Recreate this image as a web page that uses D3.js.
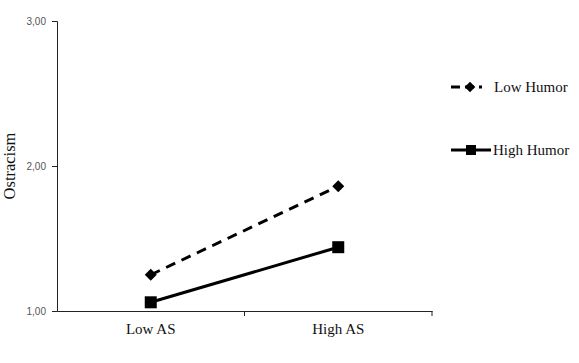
<!DOCTYPE html>
<html><head><meta charset="utf-8">
<script src="https://cdn.jsdelivr.net/npm/d3@7"></script>
<style>body{margin:0;background:#fff}</style>
</head><body>
<svg id="c" width="579" height="363"></svg>
<script>
const categories = ["Low AS", "High AS"];
const lowHumor = [1.25, 1.86];
const highHumor = [1.06, 1.44];
const yTicks = [1, 2, 3];
const seriesNames = ["Low Humor", "High Humor"];

const svg = d3.select("#c");
const m = {l: 57, r: 432, t: 21, b: 311};
const x = d3.scaleBand().domain(categories).range([m.l, m.r]);
const y = d3.scaleLinear().domain([1, 3]).range([m.b, m.t]);
const fmt = d => d3.format(".2f")(d).replace(".", ",");
const serif = "Liberation Serif, Times New Roman, serif";

// y axis
const ya = svg.append("g").attr("transform", `translate(${m.l},0)`)
  .call(d3.axisLeft(y).tickValues(yTicks).tickFormat(fmt).tickSize(5).tickPadding(6));
ya.select(".domain").attr("stroke", "#222");
ya.selectAll(".tick line").attr("stroke", "#222");
ya.selectAll("text").attr("font-family", "Liberation Sans, Arial, sans-serif").attr("font-size", 10).attr("fill", "#555");

// x axis
const xa = svg.append("g").attr("transform", `translate(0,${m.b})`)
  .call(d3.axisBottom(x).tickSizeOuter(0).tickSize(0).tickPadding(12));
xa.select(".domain").attr("stroke", "#222");
xa.selectAll("text").attr("font-family", serif).attr("font-size", 15).attr("fill", "#111");
// band boundary ticks
const bounds = [x.range()[0] + x.bandwidth(), x.range()[1]];
svg.append("g").selectAll("line").data(bounds).join("line")
  .attr("x1", d => d).attr("x2", d => d).attr("y1", m.b).attr("y2", m.b + 5).attr("stroke", "#222");

// y title
svg.append("text").attr("transform", `translate(15,${(m.t + m.b) / 2}) rotate(-90)`)
  .attr("text-anchor", "middle").attr("font-family", serif)
  .attr("font-size", 16.5).attr("fill", "#111").text("Ostracism");

const cx = c => x(c) + x.bandwidth() / 2;
const line = d3.line().x((d, i) => cx(categories[i])).y(d => y(d));

svg.append("path").datum(lowHumor).attr("d", line).attr("fill", "none")
  .attr("stroke", "#000").attr("stroke-width", 3).attr("stroke-dasharray", "10,7");
svg.append("path").datum(highHumor).attr("d", line).attr("fill", "none")
  .attr("stroke", "#000").attr("stroke-width", 3);

svg.append("g").selectAll("path").data(lowHumor).join("path")
  .attr("transform", (d, i) => `translate(${cx(categories[i])},${y(d)}) rotate(45) scale(0.85)`)
  .attr("d", d3.symbol().type(d3.symbolSquare).size(100)).attr("fill", "#000");
svg.append("g").selectAll("rect").data(highHumor).join("rect")
  .attr("x", (d, i) => cx(categories[i]) - 6).attr("y", d => y(d) - 6)
  .attr("width", 12).attr("height", 12).attr("fill", "#000");

// legend
const lg = svg.append("g");
lg.append("line").attr("x1", 451).attr("x2", 482).attr("y1", 87).attr("y2", 87)
  .attr("stroke", "#000").attr("stroke-width", 3).attr("stroke-dasharray", "9,5");
lg.append("path").attr("transform", "translate(470,87) rotate(45) scale(0.75)")
  .attr("d", d3.symbol().type(d3.symbolSquare).size(100)).attr("fill", "#000");
lg.append("text").attr("x", 494).attr("y", 92).attr("font-family", serif)
  .attr("font-size", 15).attr("fill", "#111").text(seriesNames[0]);
lg.append("line").attr("x1", 451).attr("x2", 491).attr("y1", 150).attr("y2", 150)
  .attr("stroke", "#000").attr("stroke-width", 3);
lg.append("rect").attr("x", 466).attr("y", 145).attr("width", 10).attr("height", 10).attr("fill", "#000");
lg.append("text").attr("x", 493).attr("y", 155).attr("font-family", serif)
  .attr("font-size", 15).attr("fill", "#111").text(seriesNames[1]);
</script>
</body></html>
